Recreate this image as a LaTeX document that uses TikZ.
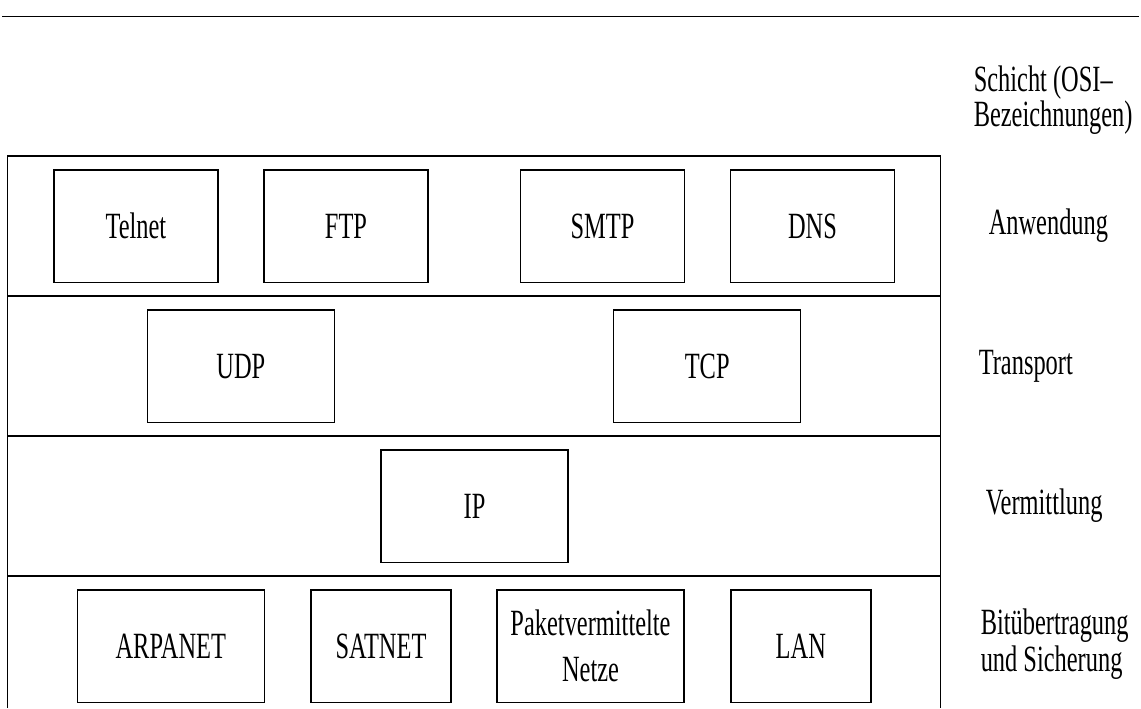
\documentclass[tikz,border=0pt]{standalone}
\usepackage{fontspec}
\setmainfont{Liberation Serif}[FakeStretch=0.66]
\begin{document}
\begin{tikzpicture}[x=0.5pt,y=-0.5pt,line width=.75pt,
    every node/.style={font=\fontsize{18.5}{23}\selectfont},
    proto/.style={draw,inner sep=0pt,minimum height=56.35pt,align=center},
    layername/.style={anchor=west,inner sep=0pt,align=left}]
    \useasboundingbox (0,0) rectangle (1141,708);
    \draw (2,16.5) -- (1139,16.5);
    % Rahmen mit den vier Schichten
    \draw (7.5,708) -- (7.5,156) -- (940.7,156) -- (940.7,708);
    \foreach \y in {296,436,576}
        \draw (7.5,\y) -- (940.7,\y);
    % Anwendung
    \foreach \name/\label/\x in {telnet/Telnet/135.9,ftp/FTP/346,smtp/SMTP/602.5,dns/DNS/812.5}
        \node[proto,minimum width=82pt] (\name) at (\x,226.3) {\label};
    % Transport
    \node[proto,minimum width=93.5pt] (udp) at (240.8,366.3) {UDP};
    \node[proto,minimum width=93.5pt] (tcp) at (707.2,366.3) {TCP};
    % Vermittlung
    \node[proto,minimum width=93.5pt] (ip) at (474.5,506.3) {IP};
    % Netze
    \node[proto,minimum width=93.5pt] (arpanet) at (170.8,646.3) {ARPANET};
    \node[proto,minimum width=70pt] (satnet) at (381,646.3) {SATNET};
    \node[proto,minimum width=93.5pt] (paket) at (590.5,646.3) {Paketvermittelte\\Netze};
    \node[proto,minimum width=70pt] (lan) at (800.8,646.3) {LAN};
    % Schichtnamen
    \node[layername,font=\fontsize{18.5}{16.5}\selectfont] (schicht) at (973,100) {Schicht (OSI–\\Bezeichnungen)};
    \node[layername] (anwendung) at (988,226) {Anwendung};
    \node[layername] (transport) at (978,366) {Transport};
    \node[layername] (vermittlung) at (985,506) {Vermittlung};
    \node[layername,font=\fontsize{18.5}{18.5}\selectfont] (bit) at (980,644) {Bitübertragung\\und Sicherung};
\end{tikzpicture}
\end{document}
